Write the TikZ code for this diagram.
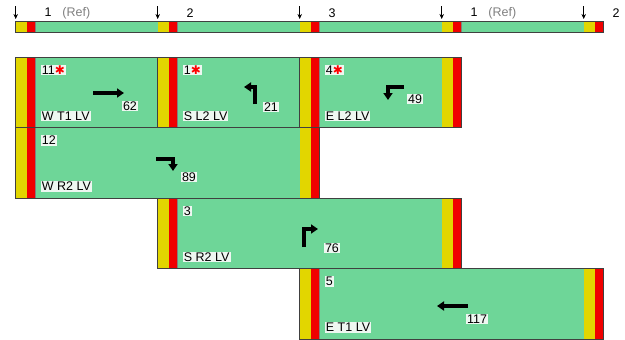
\documentclass[tikz,border=0pt]{standalone}
\usepackage{fontspec}
\setmainfont{Liberation Sans}
\newfontfamily\symfont{DejaVu Sans}
\usepackage{xcolor}
\usepackage{tikz}
\usetikzlibrary{arrows.meta}
\definecolor{sgreen}{RGB}{110,214,152}
\definecolor{syellow}{RGB}{226,214,0}
\definecolor{sred}{RGB}{240,0,0}
\definecolor{lblbg}{RGB}{238,247,241}
\newcommand{\crit}{\textcolor{red}{\symfont\fontsize{12}{12}\selectfont ✱}}

\begin{document}
\begin{tikzpicture}[x=1pt, y=-1pt,
    frame/.style={draw=black!75, line width=0.7pt},
    txt/.style={fill=lblbg, inner sep=1pt, font=\fontsize{12.5}{13}\selectfont},
    mv/.style={line width=3.5pt, line join=miter, -{Triangle[length=7pt, width=9pt]}}]
    \useasboundingbox (0,0) rectangle (625,340);
    % Cycle bar
    \fill[sgreen] (15.7,21.5) rectangle (603,32.5);
    \foreach \k in {0,...,4} {
        \fill[syellow] (15.7+142*\k,21.5) rectangle ++(11.7,11);
        \fill[sred] (27.4+142*\k,21.5) rectangle ++(7.6,11);
        \draw[black!50, thin] (35+142*\k,21.5) -- ++(0,11);
        \draw[-{Stealth[length=5pt, width=4.5pt]}, semithick] (15.7+142*\k,6) -- ++(0,13);
    }
    \draw[frame] (15.7,21.5) rectangle (603,32.5);
    % Cycle bar labels
    \node[anchor=west, font=\fontsize{12.5}{13}\selectfont] (p1) at (41,13) {1\hspace{11pt}\textcolor{gray}{(Ref)}};
    \node[anchor=west, font=\fontsize{12.5}{13}\selectfont] (p2) at (183,13) {2};
    \node[anchor=west, font=\fontsize{12.5}{13}\selectfont] (p3) at (325,13) {3};
    \node[anchor=west, font=\fontsize{12.5}{13}\selectfont] (p4) at (467,13) {1\hspace{11pt}\textcolor{gray}{(Ref)}};
    \node[anchor=west, font=\fontsize{12.5}{13}\selectfont] (p5) at (609,13) {2};
    % Phase boxes: left x / top y / width
    \foreach \bx/\by/\bw in {15.7/57/161.3, 157.7/57/161.3, 299.7/57/161.3,
        15.7/127.5/303.3, 157.7/198/303.3, 299.7/268.5/303.3} {
        \fill[sgreen] (\bx,\by) rectangle ++(\bw,70.5);
        \fill[syellow] (\bx,\by) rectangle ++(11.7,70.5);
        \fill[sred] (\bx+11.7,\by) rectangle ++(7.6,70.5);
        \fill[syellow] (\bx+\bw-19.3,\by) rectangle ++(11.7,70.5);
        \fill[sred] (\bx+\bw-7.6,\by) rectangle ++(7.6,70.5);
        \draw[black!50, thin] (\bx+19.3,\by) -- ++(0,70.5);
        \draw[frame] (\bx,\by) rectangle ++(\bw,70.5);
    }
    % Phase numbers and movement names
    \node[txt, anchor=west] (n11) at (40.7,70) {11\crit};
    \node[txt, anchor=west] (m11) at (40.7,116) {W T1 LV};
    \node[txt, anchor=west] (n1) at (182.7,70) {1\crit};
    \node[txt, anchor=west] (m1) at (182.7,116) {S L2 LV};
    \node[txt, anchor=west] (n4) at (324.7,70) {4\crit};
    \node[txt, anchor=west] (m4) at (324.7,116) {E L2 LV};
    \node[txt, anchor=west] (n12) at (40.7,140.5) {12};
    \node[txt, anchor=west] (m12) at (40.7,186.5) {W R2 LV};
    \node[txt, anchor=west] (n3) at (182.7,211) {3};
    \node[txt, anchor=west] (m3) at (182.7,257) {S R2 LV};
    \node[txt, anchor=west] (n5) at (324.7,281.5) {5};
    \node[txt, anchor=west] (m5) at (324.7,327.5) {E T1 LV};
    % Movement arrows and splits
    \draw[mv] (93,93) -- (124,93);
    \node[txt] (s11) at (130,106) {62};
    \draw[mv] (255,104) -- (255,87) -- (244,87);
    \node[txt] (s1) at (271,107) {21};
    \draw[mv] (404,87) -- (388,87) -- (388,100);
    \node[txt] (s4) at (415,99) {49};
    \draw[mv] (156,159) -- (173,159) -- (173,171);
    \node[txt] (s12) at (189,177) {89};
    \draw[mv] (304,247) -- (304,229) -- (318,229);
    \node[txt] (s3) at (332,248) {76};
    \draw[mv] (468,306) -- (437,306);
    \node[txt] (s5) at (477,319) {117};
\end{tikzpicture}
\end{document}
